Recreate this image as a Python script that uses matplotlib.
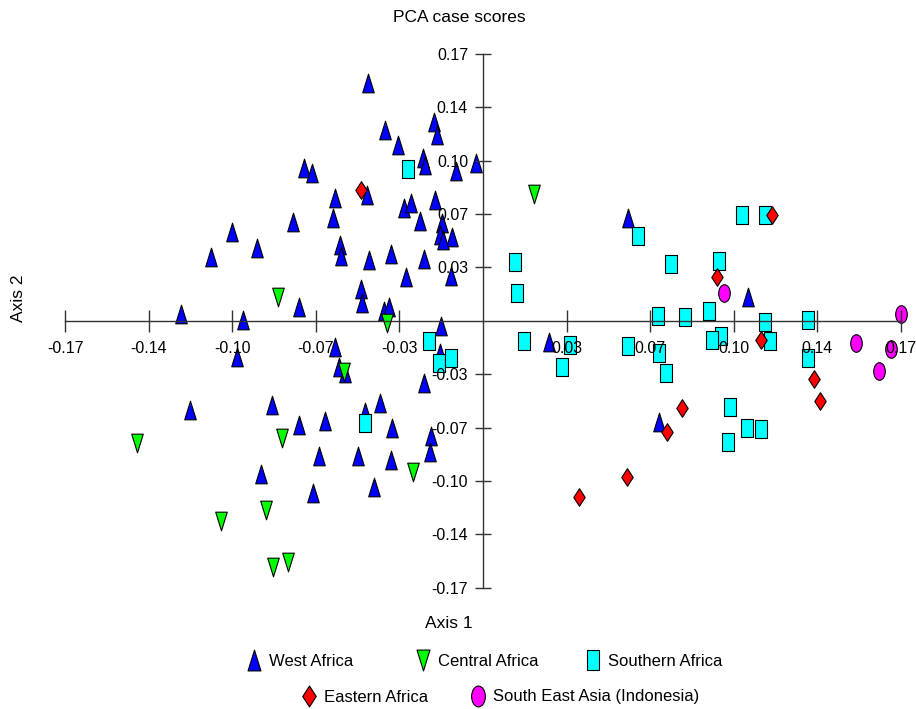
import numpy as np
import matplotlib
matplotlib.use('Agg')
import matplotlib.pyplot as plt
from matplotlib.path import Path
from matplotlib.lines import Line2D

plt.rcParams['font.family'] = ['Liberation Sans', 'DejaVu Sans']

# ---------------- data ----------------
groups = ["West Africa", "Central Africa", "Southern Africa",
          "Eastern Africa", "South East Asia (Indonesia)"]

west_x = [-0.1021, -0.1109, -0.0922, -0.0775, -0.1230, -0.0979, -0.0748, -0.0470,
          -0.0198, -0.0189, -0.0398, -0.0345, -0.0243, -0.0236, -0.0030, -0.0110,
          -0.0728, -0.0696, -0.0471, -0.0603, -0.0195, -0.0322, -0.0294, -0.0612,
          -0.0257, -0.0168, -0.0175, -0.0127, -0.0162, -0.0582, -0.0579, -0.0464,
          -0.0376, -0.0239, -0.0132, -0.0314, -0.0498, -0.0491, -0.0402, -0.0382,
          -0.0170, -0.0175, -0.0240, -0.0601, -0.0585, -0.0562, -0.0418, -0.0480,
          -0.0643, -0.0748, -0.0371, -0.0212, -0.0216, -0.0668, -0.0510, -0.0373,
          -0.0445, -0.0692, -0.1000, -0.1192, -0.0860, -0.0904, 0.0589, 0.0270,
          0.1080, 0.0717]
west_y = [0.0567, 0.0404, 0.0465, 0.0628, 0.0043, 0.0004, 0.0089, 0.1515,
          0.1267, 0.1182, 0.1214, 0.1119, 0.1034, 0.0991, 0.1006, 0.0955,
          0.0970, 0.0938, 0.0800, 0.0779, 0.0768, 0.0716, 0.0751, 0.0652,
          0.0633, 0.0620, 0.0546, 0.0535, 0.0514, 0.0482, 0.0412, 0.0386,
          0.0425, 0.0393, 0.0285, 0.0280, 0.0200, 0.0111, 0.0064, 0.0085,
          -0.0034, -0.0206, -0.0399, -0.0166, -0.0297, -0.0335, -0.0522, -0.0581,
          -0.0637, -0.0664, -0.0685, -0.0734, -0.0834, -0.0860, -0.0861, -0.0887,
          -0.1057, -0.1099, -0.0229, -0.0569, -0.0537, -0.0978, 0.0652, -0.0134,
          0.0153, -0.0643]

central_x = [0.0208, -0.0835, -0.0390, -0.0565, -0.0817, -0.1410, -0.0284,
             -0.0884, -0.1068, -0.0856, -0.0793]
central_y = [0.0807, 0.0153, -0.0017, -0.0325, -0.0744, -0.0781, -0.0961,
             -0.1205, -0.1275, -0.1566, -0.1536]

southern_x = [-0.0307, 0.0129, 0.0138, 0.0167, 0.0354, 0.0320, -0.0220, -0.0179,
              -0.0132, -0.0480, 0.0631, 0.0766, 0.0711, 0.0822, 0.0592, 0.0717,
              0.0745, 0.1056, 0.1148, 0.0961, 0.0919, 0.1148, 0.1323, 0.0968,
              0.0934, 0.1169, 0.1323, 0.1005, 0.1075, 0.1131, 0.0996]
southern_y = [0.0966, 0.0372, 0.0178, -0.0131, -0.0152, -0.0293, -0.0127, -0.0267,
              -0.0239, -0.0649, 0.0541, 0.0361, 0.0032, 0.0024, -0.0161, -0.0208,
              -0.0331, 0.0673, 0.0673, 0.0380, 0.0062, -0.0006, 0.0004, -0.0096,
              -0.0121, -0.0129, -0.0236, -0.0548, -0.0681, -0.0690, -0.0774]

eastern_x = [-0.0497, 0.1178, 0.0952, 0.1131, 0.1349, 0.1372, 0.0812, 0.0748,
             0.0585, 0.0391]
eastern_y = [0.0832, 0.0673, 0.0276, -0.0123, -0.0371, -0.0511, -0.0554, -0.0707,
             -0.0997, -0.1121]

sea_x = [0.0980, 0.1703, 0.1518, 0.1662, 0.1614]
sea_y = [0.0178, 0.0041, -0.0144, -0.0179, -0.0320]

tick_vals = [-0.170, -0.136, -0.102, -0.068, -0.034, 0.034, 0.068, 0.102, 0.136, 0.170]
tick_labels = ["-0.17", "-0.14", "-0.10", "-0.07", "-0.03",
               "0.03", "0.07", "0.10", "0.14", "0.17"]

# ---------------- marker shapes ----------------
C = [Path.MOVETO, Path.LINETO, Path.LINETO, Path.CLOSEPOLY]
tri_up = Path([(-0.62, -1), (0.62, -1), (0, 1), (-0.62, -1)], C)
tri_down = Path([(-0.62, 1), (0.62, 1), (0, -1), (-0.62, 1)], C)
rect = Path([(-0.62, -1), (0.62, -1), (0.62, 1), (-0.62, 1), (-0.62, -1)],
            [Path.MOVETO, Path.LINETO, Path.LINETO, Path.LINETO, Path.CLOSEPOLY])
diamond = Path([(0, -1), (0.65, 0), (0, 1), (-0.65, 0), (0, -1)],
               [Path.MOVETO, Path.LINETO, Path.LINETO, Path.LINETO, Path.CLOSEPOLY])
uc = Path.unit_circle()
ellipse = Path(uc.vertices * np.array([0.66, 1.0]), uc.codes)

colors = ["#0000ff", "#00ff00", "#00ffff", "#ff0000", "#ff00ff"]
markers = [tri_up, tri_down, rect, diamond, ellipse]
sizes = [180, 180, 180, 160, 160]
data = [(west_x, west_y), (central_x, central_y), (southern_x, southern_y),
        (eastern_x, eastern_y), (sea_x, sea_y)]

# ---------------- figure ----------------
fig = plt.figure(figsize=(9.16, 7.09), dpi=100)
ax = fig.add_axes([0.05808, 0.1489, 0.93843, 0.7975])
ax.set_xlim(-0.175, 0.175)
ax.set_ylim(-0.18, 0.18)

for (xs, ys), col, mk, sz in zip(data, colors, markers, sizes):
    ax.scatter(xs, ys, s=sz, marker=mk, facecolor=col, edgecolor='black',
               linewidths=0.8, zorder=1)

axis_col = '#333333'
for side in ['top', 'right']:
    ax.spines[side].set_visible(False)
for side in ['left', 'bottom']:
    ax.spines[side].set_position(('data', 0))
    ax.spines[side].set_bounds(-0.17, 0.17)
    ax.spines[side].set_color(axis_col)
    ax.spines[side].set_linewidth(1.0)

ax.set_xticks(tick_vals)
ax.set_xticklabels(tick_labels)
ax.set_yticks(tick_vals)
ax.set_yticklabels(tick_labels)
ax.tick_params(axis='x', direction='inout', length=15.8, width=1.0,
               color=axis_col, pad=7, labelsize=11.5)
ax.tick_params(axis='y', direction='inout', length=11.5, width=1.0,
               color=axis_col, pad=5, labelsize=11.5)
ax.patch.set_visible(False)

fig.text(459 / 916, 1 - 17.5 / 709, "PCA case scores", ha='center', va='center',
         fontsize=12.5)
fig.text(449 / 916, 1 - 624 / 709, "Axis 1", ha='center', va='center', fontsize=12.5)
fig.text(18.3 / 916, 1 - 298 / 709, "Axis 2", ha='center', va='center',
         rotation=90, fontsize=12.5)

# ---------------- legend ----------------
leg_pos = [(246, 661), (415, 661), (584.4, 661), (300.7, 697), (470, 697)]
for name, col, mk, (lx, ly) in zip(groups, colors, markers, leg_pos):
    h = Line2D([], [], linestyle='none', marker=mk, markersize=15,
               markerfacecolor=col, markeredgecolor='black', markeredgewidth=0.8)
    fig.legend([h], [name], loc='center left',
               bbox_to_anchor=(lx / 916, 1 - ly / 709),
               bbox_transform=fig.transFigure, frameon=False, fontsize=12,
               handlelength=1.0, handletextpad=0.4, borderpad=0,
               borderaxespad=0)

fig.savefig('out.png', dpi=100)
